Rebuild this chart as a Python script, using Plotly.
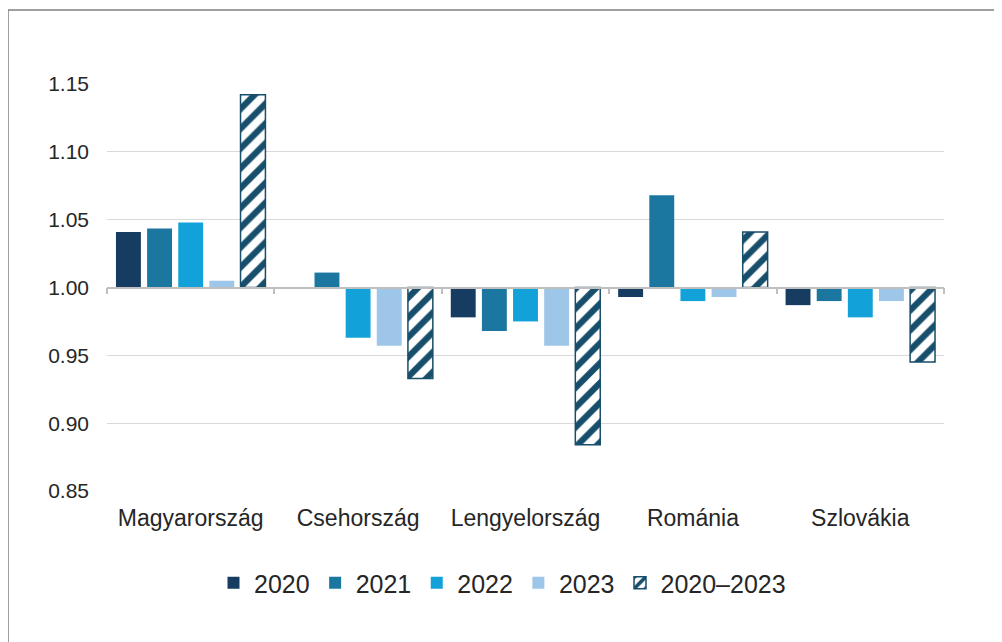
import plotly.graph_objects as go

countries = ["Magyarország", "Csehország", "Lengyelország", "Románia", "Szlovákia"]
series_names = ["2020", "2021", "2022", "2023", "2020–2023"]
v2020 = [1.041, None, 0.978, 0.993, 0.987]
v2021 = [1.0435, 1.011, 0.968, 1.068, 0.990]
v2022 = [1.048, 0.963, 0.975, 0.990, 0.978]
v2023 = [1.005, 0.957, 0.957, 0.993, 0.990]
v2020_2023 = [1.142, 0.933, 0.884, 1.041, 0.945]
y_ticks = [0.85, 0.90, 0.95, 1.00, 1.05, 1.10, 1.15]
base_value = 1.0

colors = ["#163c61", "#1c77a0", "#12a2d9", "#9dc6e8"]
hatch_color = "#174e6b"
FONT = "Liberation Sans, Arial, sans-serif"
TXT = "#262626"

W, H = 1002, 642
L, R, T, B = 99, 66, 76, 159
pw, ph = W - L - R, H - T - B

fig = go.Figure()
for name, vals, col in zip(series_names[:4], [v2020, v2021, v2022, v2023], colors):
    fig.add_trace(go.Bar(
        x=countries,
        y=[None if v is None else v - base_value for v in vals],
        base=base_value,
        name=name,
        marker=dict(color=col, line=dict(width=0)),
    ))
fig.add_trace(go.Bar(
    x=countries,
    y=[v - base_value for v in v2020_2023],
    base=base_value,
    name=series_names[4],
    marker=dict(
        color="white",
        line=dict(color=hatch_color, width=1.5),
        pattern=dict(shape="/", fgcolor=hatch_color, bgcolor="white", fgopacity=1,
                     size=14, solidity=0.45, fillmode="replace"),
    ),
))

# helper axis: category axis line crossing at 1.00 with boundary ticks
n = len(countries)
fig.add_trace(go.Scatter(x=[-0.5, n - 0.5], y=[base_value, base_value], xaxis="x2",
                         mode="lines", line=dict(width=0, color="rgba(0,0,0,0)"),
                         showlegend=False, hoverinfo="skip"))

ymin, ymax = y_ticks[0], y_ticks[-1]
fig.update_layout(
    width=W, height=H,
    margin=dict(l=L, r=R, t=T, b=B),
    paper_bgcolor="white", plot_bgcolor="white",
    font=dict(family=FONT, size=22, color=TXT),
    barmode="group", bargap=0.07, bargroupgap=0.2,
    xaxis=dict(type="category", range=[-0.5, n - 0.5], showline=False, showgrid=False,
               ticks="", tickfont=dict(size=23, color=TXT), ticklabelstandoff=11,
               zeroline=False),
    xaxis2=dict(overlaying="x", anchor="free",
                position=(base_value - ymin) / (ymax - ymin),
                range=[-0.5, n - 0.5], tickvals=[i - 0.5 for i in range(n + 1)],
                showticklabels=False, ticks="outside", ticklen=6, tickwidth=1.5,
                tickcolor="#bfbfbf", showline=True, linecolor="#bfbfbf", linewidth=1.5,
                showgrid=False, zeroline=False, side="bottom"),
    yaxis=dict(range=[ymin, ymax], tickvals=y_ticks, tickformat=".2f",
               showgrid=True, gridcolor="#d9d9d9", gridwidth=1.2,
               zeroline=False, showline=False, ticks="",
               tickfont=dict(size=21, color=TXT), ticklabelstandoff=17),
    legend=dict(orientation="h", x=(205 - L) / pw, xanchor="left",
                y=(T + ph - 575) / ph, yanchor="middle",
                font=dict(size=25, color=TXT), traceorder="normal",
                itemwidth=31, tracegroupgap=0),
    showlegend=True,
    shapes=[dict(type="rect", xref="paper", yref="paper",
                 x0=(0 - L) / pw, x1=(W + 10 - L) / pw,
                 y0=(T + ph - (H + 10)) / ph, y1=(T + ph - 2) / ph,
                 line=dict(color="#808080", width=1.5), fillcolor="rgba(0,0,0,0)",
                 layer="below")],
)

fig.write_html("out.html")
